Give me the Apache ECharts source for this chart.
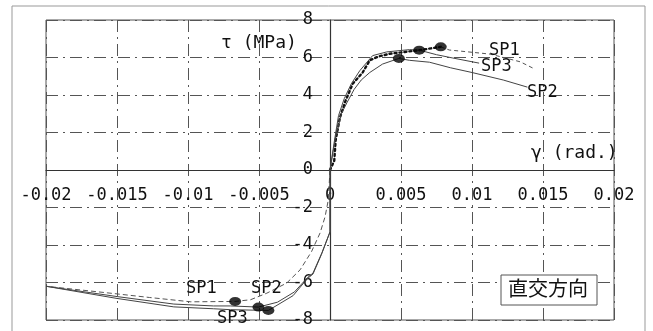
<!DOCTYPE html>
<html>
<head>
<meta charset="utf-8">
<script src="https://cdn.jsdelivr.net/npm/echarts@6/dist/echarts.min.js"></script>
<style>
  html, body { margin: 0; padding: 0; background: #fff; }
  #shearChart { width: 653px; height: 331px; }
</style>
</head>
<body>
<div id="shearChart"></div>
<script>
  // 刻み（軸ラベル）
  var xTickLabels = ['-0.02', '-0.015', '-0.01', '-0.005', '0', '0.005', '0.01', '0.015', '0.02'];
  var yTickLabels = ['-8', '-6', '-4', '-2', '0', '2', '4', '6', '8'];

  // SP1 : 正側立上り（点線）、正側下降（破線）、負側（破線）
  var sp1PosRise = [[0, 0], [0.0003, 0.5], [0.0004, 1.6], [0.0007, 2.8], [0.0011, 3.7], [0.0016, 4.6],
    [0.0023, 5.2], [0.0028, 5.85], [0.0034, 6.05], [0.0042, 6.2], [0.0051, 6.28], [0.0063, 6.39], [0.0078, 6.57]];
  var sp1PosTail = [[0.0078, 6.57], [0.0084, 6.4], [0.0113, 6.18], [0.0134, 5.77], [0.0143, 5.43]];
  var sp1Neg = [[0, 0], [-0.00012, -1.6], [-0.00035, -2.5], [-0.0007, -3.36], [-0.0013, -4.35], [-0.0021, -5.32],
    [-0.00305, -6.03], [-0.00445, -6.57], [-0.0056, -6.92], [-0.0067, -7.01], [-0.0098, -7.03],
    [-0.0127, -6.8], [-0.0157, -6.55], [-0.02, -6.2]];

  // SP2
  var sp2Pos = [[0, 0], [0.0004, 1.8], [0.0008, 3.0], [0.0012, 3.6], [0.0017, 4.3], [0.0022, 4.8], [0.0028, 5.2],
    [0.0037, 5.65], [0.00485, 5.95], [0.0056, 5.85], [0.007, 5.75], [0.0085, 5.45], [0.01, 5.2], [0.0122, 4.8], [0.0139, 4.42]];
  var sp2Neg = [[0, 0], [0, -3.3], [-0.00056, -4.4], [-0.0012, -5.5], [-0.0016, -5.75], [-0.0025, -6.5],
    [-0.0037, -7.05], [-0.00504, -7.31], [-0.007, -7.25], [-0.0082, -7.25], [-0.011, -7.15], [-0.015, -6.75], [-0.02, -6.2]];

  // SP3
  var sp3Pos = [[0, 0], [0.0003, 1.5], [0.0006, 2.9], [0.001, 3.8], [0.0015, 4.6], [0.0021, 5.3], [0.003, 6.1],
    [0.004, 6.3], [0.0056, 6.42], [0.0063, 6.39], [0.0075, 6.15], [0.0086, 5.98], [0.0105, 5.7]];
  var sp3Neg = [[0, 0], [0, -3.3], [-0.0006, -4.5], [-0.0012, -5.55], [-0.0016, -5.8], [-0.0026, -6.7],
    [-0.00434, -7.49], [-0.007, -7.45], [-0.0082, -7.4], [-0.011, -7.3], [-0.015, -6.85], [-0.02, -6.2]];

  // 最大点（黒丸）
  var peakPoints = [[0.0078, 6.57], [0.00628, 6.39], [0.00485, 5.95],
    [-0.00668, -7.01], [-0.00504, -7.31], [-0.00434, -7.49]];

  var monoFont = '"DejaVu Sans Mono", "Liberation Mono", monospace';
  var gridDash = [12, 5, 2, 5];
  var thinGray = { color: '#444', width: 1 };

  var chartW = 653, chartH = 331;
  var gLeft = 46, gRight = 39, gTop = 20, gBottom = 11;

  var myChart = echarts.init(document.getElementById('shearChart'));

  function lineSeries(name, data, style) {
    return {
      name: name,
      type: 'line',
      data: data,
      showSymbol: false,
      symbol: 'none',
      silent: true,
      lineStyle: style,
      z: 3
    };
  }

  myChart.setOption({
    backgroundColor: '#fff',
    animation: false,
    grid: {
      left: gLeft, right: gRight, top: gTop, bottom: gBottom,
      show: true,
      borderColor: '#555',
      borderWidth: 1
    },
    xAxis: {
      type: 'value',
      min: -0.02, max: 0.02, interval: 0.005,
      position: 'bottom',
      // 軸を原点まで移動（ラベルも一緒に）
      offset: -(chartH - gTop - gBottom) / 2,
      axisLine: { onZero: false, lineStyle: { color: '#333', width: 1.2 } },
      axisTick: { show: false },
      axisLabel: {
        color: '#111', fontFamily: monoFont, fontSize: 17, margin: 17,
        formatter: function (v) { return xTickLabels[Math.round((v + 0.02) / 0.005)]; }
      },
      splitLine: { lineStyle: { color: '#555', width: 1, type: gridDash } }
    },
    yAxis: {
      type: 'value',
      min: -8, max: 8, interval: 2,
      position: 'left',
      offset: -(chartW - gLeft - gRight) / 2,
      axisLine: { onZero: false, lineStyle: { color: '#333', width: 1.2 } },
      axisTick: { show: false },
      axisLabel: {
        color: '#111', fontFamily: monoFont, fontSize: 17, margin: 17,
        formatter: function (v) { return yTickLabels[Math.round((v + 8) / 2)]; }
      },
      splitLine: { lineStyle: { color: '#555', width: 1, type: gridDash } }
    },
    graphic: [
      // 外枠
      { type: 'rect', shape: { x: 12, y: 6, width: 633, height: 340 }, style: { fill: 'none', stroke: '#999', lineWidth: 1 }, z: -1 },
      { type: 'text', left: 221, top: 34, style: { text: 'τ (MPa)', font: '18px ' + monoFont, fill: '#111' }, z: 10 },
      { type: 'text', left: 531, top: 144, style: { text: 'γ (rad.)', font: '18px ' + monoFont, fill: '#111' }, z: 10 },
      { type: 'text', left: 489, top: 42, style: { text: 'SP1', font: '17px ' + monoFont, fill: '#111' }, z: 10 },
      { type: 'text', left: 481, top: 58, style: { text: 'SP3', font: '17px ' + monoFont, fill: '#111' }, z: 10 },
      { type: 'text', left: 527, top: 84, style: { text: 'SP2', font: '17px ' + monoFont, fill: '#111' }, z: 10 },
      { type: 'text', left: 186, top: 280, style: { text: 'SP1', font: '17px ' + monoFont, fill: '#111' }, z: 10 },
      { type: 'text', left: 251, top: 280, style: { text: 'SP2', font: '17px ' + monoFont, fill: '#111' }, z: 10 },
      { type: 'text', left: 217, top: 310, style: { text: 'SP3', font: '17px ' + monoFont, fill: '#111' }, z: 10 },
      // 直交方向
      { type: 'rect', shape: { x: 501, y: 275, width: 96, height: 30 }, style: { fill: '#fff', stroke: '#555', lineWidth: 1 }, z: 10 },
      { type: 'text', left: 508, top: 278, style: { text: '直交方向', font: '20px "Noto Sans CJK JP"', fill: '#111' }, z: 11 }
    ],
    series: [
      lineSeries('SP1', sp1PosRise, { color: '#111', width: 2.4, type: [2, 3], cap: 'round' }),
      lineSeries('SP1', sp1PosTail, { color: '#555', width: 1, type: [4, 3] }),
      lineSeries('SP1', sp1Neg, { color: '#555', width: 1, type: [5, 3] }),
      lineSeries('SP2', sp2Pos, thinGray),
      lineSeries('SP2', sp2Neg, thinGray),
      lineSeries('SP3', sp3Pos, thinGray),
      lineSeries('SP3', sp3Neg, thinGray),
      {
        name: 'peak',
        type: 'scatter',
        data: peakPoints,
        symbol: 'circle',
        symbolSize: [12, 9],
        itemStyle: { color: '#000' },
        silent: true,
        z: 5
      }
    ]
  });
</script>
</body>
</html>
